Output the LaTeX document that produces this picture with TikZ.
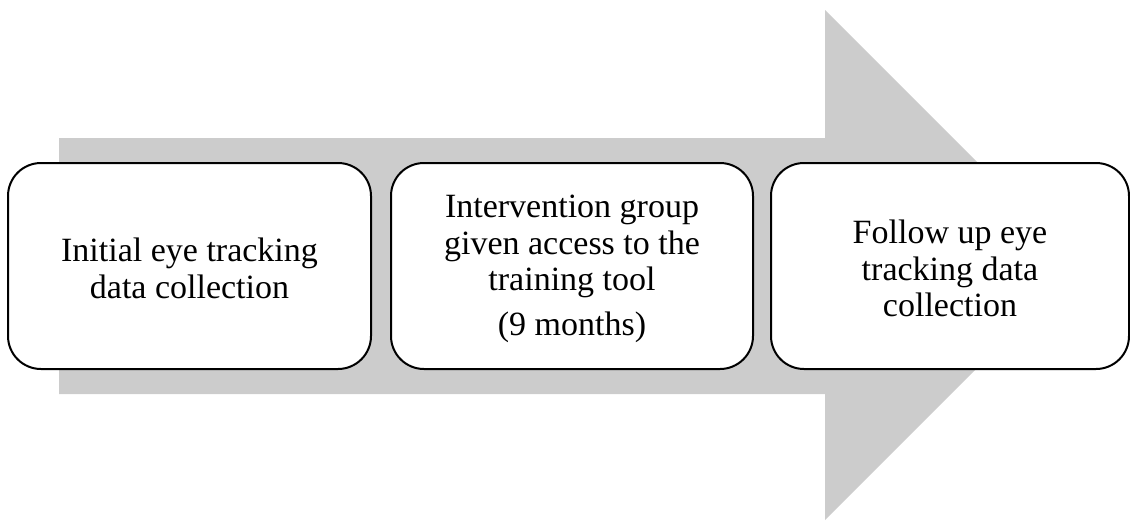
\documentclass[tikz,border=0pt]{standalone}
\usepackage{fontspec}
\setmainfont{Liberation Serif}
\begin{document}
\begin{tikzpicture}[x=1pt,y=-1pt,
  stepbox/.style={draw=black, line width=2pt, fill=white, rounded corners=33pt,
    minimum height=206pt, inner sep=0pt},
  steptext/.style={align=center, inner sep=0pt,
    font=\fontsize{34}{36.5}\selectfont},
  arrowbody/.style={fill=arrowgray, draw=none}]
\definecolor{arrowgray}{RGB}{204,204,204}
\useasboundingbox (0,0) rectangle (1130,525);
\fill[arrowbody] (59,138) -- (825,138) -- (825,10) -- (1080,265) -- (825,520) -- (825,394) -- (59,394) -- cycle;
\node[stepbox, minimum width=363pt] (b1) at (189.5,266) {};
\node[stepbox, minimum width=362pt] (b2) at (572,266) {};
\node[stepbox, minimum width=358pt] (b3) at (950,266) {};
\node[steptext] (t1) at ([yshift=-2.5pt]b1.center) {Initial eye tracking\\data collection};
\node[steptext] (t2) at ([yshift=-3pt]b2.center) {Intervention group\\given access to the\\training tool\\[8pt](9 months)};
\node[steptext] (t3) at ([yshift=-2.5pt]b3.center) {Follow up eye\\tracking data\\collection};
\end{tikzpicture}
\end{document}
